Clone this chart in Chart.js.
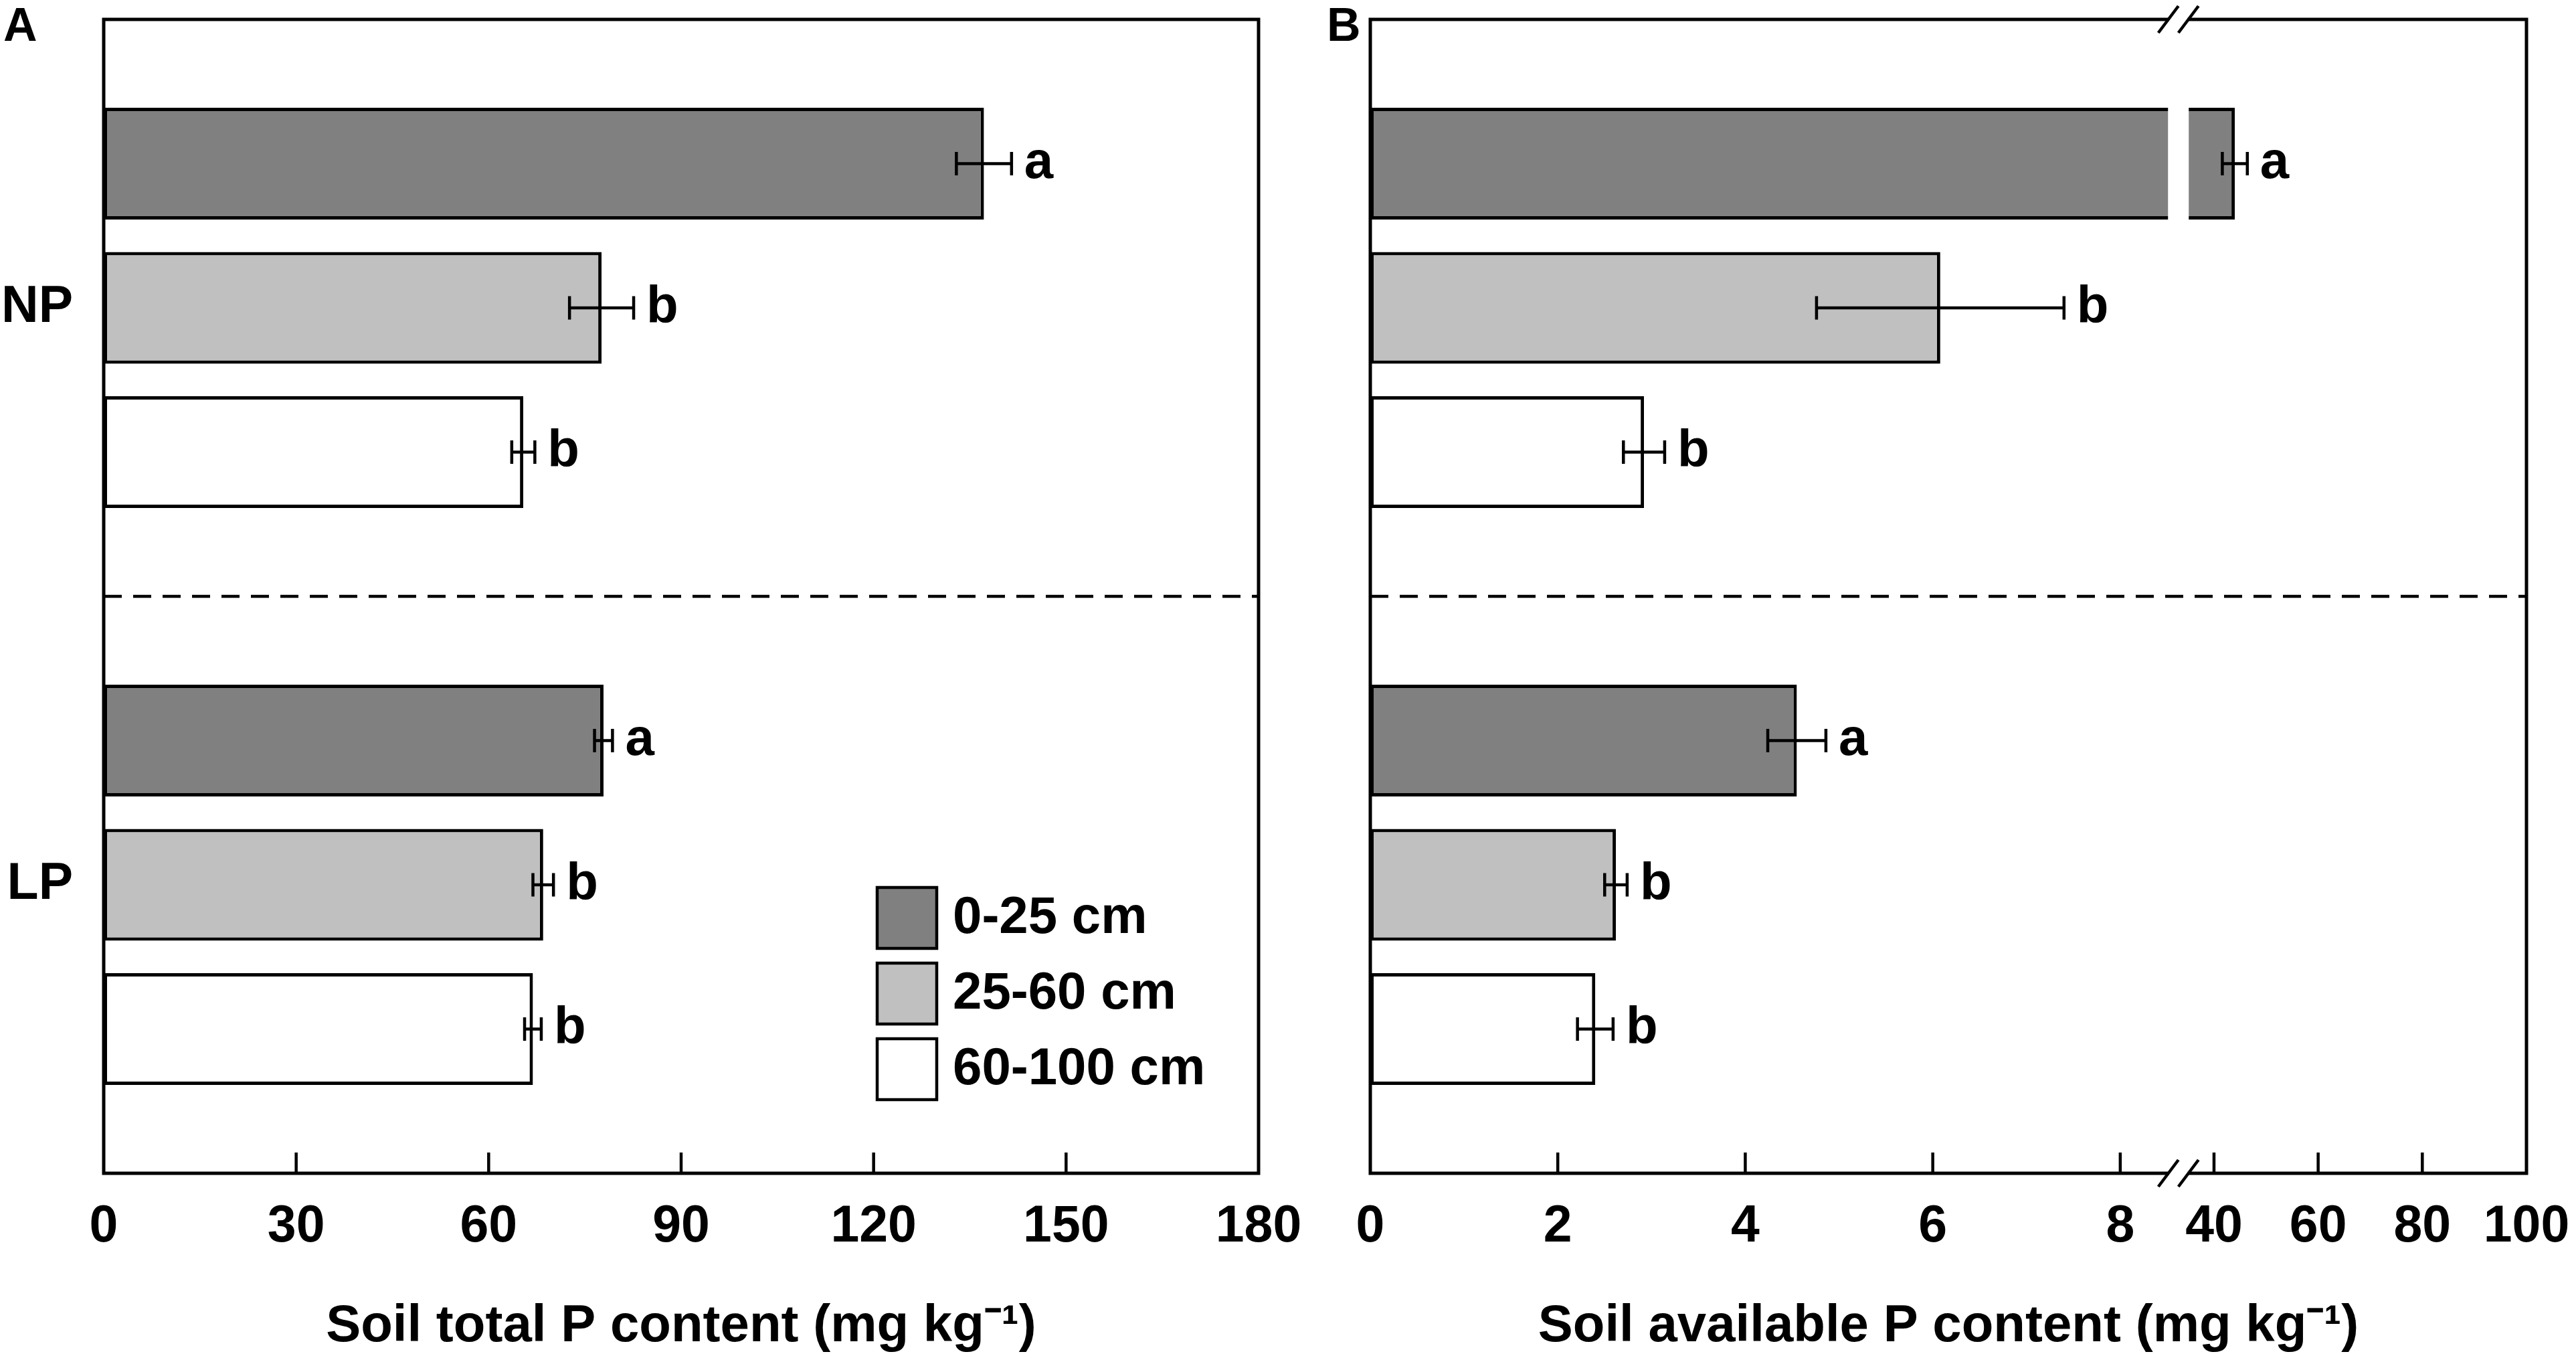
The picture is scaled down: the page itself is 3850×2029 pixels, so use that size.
<!DOCTYPE html>
<html>
<head>
<meta charset="utf-8">
<script src="https://cdn.jsdelivr.net/npm/chart.js@4.4.0/dist/chart.umd.min.js"></script>
<style>
  html, body { margin: 0; padding: 0; background: #fff; }
  #wrap { position: relative; width: 3850px; height: 2029px; overflow: hidden; background: #fff; }
  canvas { position: absolute; top: 0; }
  #chartA { left: 0; }
  #chartB { left: 1965px; }
  .panel { position: absolute; top: 2px; font: bold 70px 'Liberation Sans', Arial, sans-serif; line-height: 1; color: #000; }
</style>
</head>
<body>
<div id="wrap">
  <canvas id="chartA" width="1965" height="2029"></canvas>
  <canvas id="chartB" width="1885" height="2029"></canvas>
  <div class="panel" style="left:5px">A</div>
  <div class="panel" style="left:1983px">B</div>
</div>
<script>
// Categories
const groups = ['NP', 'LP'];
const depths = ['0-25 cm', '25-60 cm', '60-100 cm'];
const depthColors = ['#808080', '#c0c0c0', '#ffffff'];

// Soil total P content (mg kg-1), mean and SE per depth
const totalNP = [137.2, 77.6, 65.4];
const totalNPse = [4.3, 5.0, 1.8];
const totalLP = [77.9, 68.5, 66.9];
const totalLPse = [1.4, 1.6, 1.3];
const totalNPletters = ['a', 'b', 'b'];
const totalLPletters = ['a', 'b', 'b'];
const totalTicks = [0, 30, 60, 90, 120, 150, 180];

// Soil available P content (mg kg-1), mean and SE per depth
const availNP = [44.0, 6.08, 2.92];
const availNPse = [2.4, 1.32, 0.22];
const availLP = [4.55, 2.62, 2.40];
const availLPse = [0.31, 0.12, 0.19];
const availNPletters = ['a', 'b', 'b'];
const availLPletters = ['a', 'b', 'b'];
const availTicks = [0, 2, 4, 6, 8, 40, 60, 80, 100];

// Broken axis for panel B: 0-8.6 kept as is, then 40-100 compressed
const BREAK_AT = 8.62;
const UPPER_FROM = 40;
const UPPER_POS = 9;
const UPPER_STEP = 1 / 18;
function brokenAxis(v) {
  return v <= BREAK_AT ? v : UPPER_POS + (v - UPPER_FROM) * UPPER_STEP;
}
function plainAxis(v) { return v; }

const FONT = "'Liberation Sans', Arial, sans-serif";
Chart.defaults.font.family = FONT;
Chart.defaults.color = '#000';

// Rows of the y axis: empty row, NP bars, separator, LP bars, empty row
const rows = ['top'];
groups.forEach((g, gi) => {
  if (gi > 0) rows.push('sep');
  depths.forEach(d => rows.push(g + ' ' + d));
});
rows.push('bottom');

function rowInfo(i) {
  for (let gi = 0; gi < groups.length; gi++) {
    for (let di = 0; di < depths.length; di++) {
      if (rows[i] === groups[gi] + ' ' + depths[di]) return { gi, di };
    }
  }
  return null;
}

// Error bars, letters, frame, ticks, separator, legend, axis break
const extrasPlugin = {
  id: 'extras',
  afterDatasetsDraw(chart, args, opts) {
    const ctx = chart.ctx;
    const area = chart.chartArea;
    const x = chart.scales.x;
    const y = chart.scales.y;
    ctx.save();

    // gap in bars crossing the axis break
    if (opts.broken) {
      const bx = x.getPixelForValue(BREAK_AT);
      chart.data.datasets.forEach((ds, di) => {
        chart.getDatasetMeta(di).data.forEach((el, i) => {
          if (ds.data[i] == null) return;
          const p = el.getProps(['x', 'y', 'height'], true);
          if (p.x > bx) {
            ctx.fillStyle = '#fff';
            ctx.fillRect(bx - 15.5, p.y - p.height / 2 - 4, 31, p.height + 8);
          }
        });
      });
    }

    // dashed separator between groups
    const sy = y.getPixelForValue(rows.indexOf('sep'));
    ctx.strokeStyle = '#000';
    ctx.lineWidth = 4.5;
    ctx.setLineDash([27, 17]);
    ctx.beginPath();
    ctx.moveTo(area.left, sy);
    ctx.lineTo(area.right, sy);
    ctx.stroke();
    ctx.setLineDash([]);

    // frame
    ctx.lineWidth = 5;
    ctx.strokeRect(area.left, area.top, area.right - area.left, area.bottom - area.top);

    // inside tick marks
    ctx.lineWidth = 4.5;
    x.ticks.forEach(t => {
      if (t.value <= x.min || t.value >= x.max) return;
      const px = x.getPixelForValue(t.value);
      ctx.beginPath();
      ctx.moveTo(px, area.bottom);
      ctx.lineTo(px, area.bottom - 31);
      ctx.stroke();
    });

    // break marks on top and bottom axis
    if (opts.broken) {
      const bx = x.getPixelForValue(BREAK_AT);
      [area.top, area.bottom].forEach(ay => {
        ctx.fillStyle = '#fff';
        ctx.fillRect(bx - 14, ay - 5, 28, 10);
        [-15, 15].forEach(off => {
          ctx.beginPath();
          ctx.moveTo(bx + off - 15, ay + 20);
          ctx.lineTo(bx + off + 15, ay - 20);
          ctx.stroke();
        });
      });
    }

    // error bars and letters
    ctx.lineWidth = 4.5;
    ctx.fillStyle = '#000';
    ctx.font = 'bold 78px ' + FONT;
    ctx.textAlign = 'left';
    ctx.textBaseline = 'middle';
    chart.data.datasets.forEach((ds, di) => {
      chart.getDatasetMeta(di).data.forEach((el, i) => {
        const info = rowInfo(i);
        if (!info || info.di !== di) return;
        const mean = opts.means[info.gi][di];
        const se = opts.errors[info.gi][di];
        const lo = x.getPixelForValue(opts.axis(mean - se));
        const hi = x.getPixelForValue(opts.axis(mean + se));
        const cy = el.y;
        ctx.beginPath();
        ctx.moveTo(lo, cy);
        ctx.lineTo(hi, cy);
        ctx.moveTo(lo, cy - 17.5);
        ctx.lineTo(lo, cy + 17.5);
        ctx.moveTo(hi, cy - 17.5);
        ctx.lineTo(hi, cy + 17.5);
        ctx.stroke();
        ctx.fillText(opts.letters[info.gi][di], hi + 19, cy);
      });
    });

    // legend
    if (opts.legend) {
      const lx = area.left + 1156;
      const ly = area.top + 1297;
      ctx.lineWidth = 4.5;
      depths.forEach((d, di) => {
        const top = ly + di * 113;
        ctx.fillStyle = depthColors[di];
        ctx.fillRect(lx, top, 89, 91);
        ctx.strokeRect(lx, top, 89, 91);
        ctx.fillStyle = '#000';
        ctx.fillText(d, lx + 113, top + 46);
      });
    }
    ctx.restore();
  }
};

function makeChart(id, cfg) {
  const datasets = depths.map((d, di) => ({
    label: d,
    data: rows.map((r, i) => {
      const info = rowInfo(i);
      return info && info.di === di ? cfg.axis(cfg.means[info.gi][di]) : null;
    }),
    backgroundColor: depthColors[di],
    borderColor: '#000',
    borderWidth: 5,
    borderSkipped: false,
    barPercentage: 0.775,
    categoryPercentage: 1
  }));

  return new Chart(document.getElementById(id), {
    type: 'bar',
    data: { labels: rows, datasets: datasets },
    plugins: [extrasPlugin],
    options: {
      indexAxis: 'y',
      responsive: false,
      animation: false,
      devicePixelRatio: 1,
      layout: { padding: { left: 0, right: cfg.padRight, top: 29, bottom: 0 } },
      plugins: {
        legend: { display: false },
        tooltip: { enabled: false },
        extras: {
          means: cfg.means,
          errors: cfg.errors,
          letters: cfg.letters,
          axis: cfg.axis,
          legend: cfg.legend,
          broken: cfg.broken
        }
      },
      scales: {
        x: {
          type: 'linear',
          min: 0,
          max: cfg.axis(cfg.ticks[cfg.ticks.length - 1]),
          afterBuildTicks: scale => {
            scale.ticks = cfg.ticks.map(v => ({ value: cfg.axis(v) }));
          },
          afterFit: scale => {
            scale.height = 276;
            scale.paddingLeft = 0;
            scale.paddingRight = 0;
          },
          grid: { display: false },
          border: { display: false },
          ticks: {
            autoSkip: false,
            maxRotation: 0,
            padding: 27,
            font: { size: 77, weight: 'bold' },
            callback: (v, i) => String(cfg.ticks[i])
          },
          title: {
            display: true,
            text: cfg.title,
            font: { size: 78, weight: 'bold' },
            padding: { top: 0, bottom: 0 }
          }
        },
        y: {
          type: 'category',
          offset: false,
          stacked: true,
          afterFit: scale => {
            scale.width = cfg.yWidth;
            scale.paddingTop = 0;
            scale.paddingBottom = 0;
          },
          grid: { display: false },
          border: { display: false },
          ticks: {
            display: cfg.yLabels,
            autoSkip: false,
            padding: 38,
            font: { size: 77, weight: 'bold' },
            callback: (v, i) => {
              const gi = groups.findIndex(g => rows[i] === g + ' ' + depths[1]);
              return gi < 0 ? '' : groups[gi];
            }
          }
        }
      }
    }
  });
}

makeChart('chartA', {
  means: [totalNP, totalLP],
  errors: [totalNPse, totalLPse],
  letters: [totalNPletters, totalLPletters],
  ticks: totalTicks,
  axis: plainAxis,
  title: 'Soil total P content (mg kg\u207B\u00B9)',
  yWidth: 155,
  yLabels: true,
  padRight: 84,
  legend: true,
  broken: false
});

makeChart('chartB', {
  means: [availNP, availLP],
  errors: [availNPse, availLPse],
  letters: [availNPletters, availLPletters],
  ticks: availTicks,
  axis: brokenAxis,
  title: 'Soil available P content (mg kg\u207B\u00B9)',
  yWidth: 83,
  yLabels: false,
  padRight: 74,
  legend: false,
  broken: true
});
</script>
</body>
</html>
